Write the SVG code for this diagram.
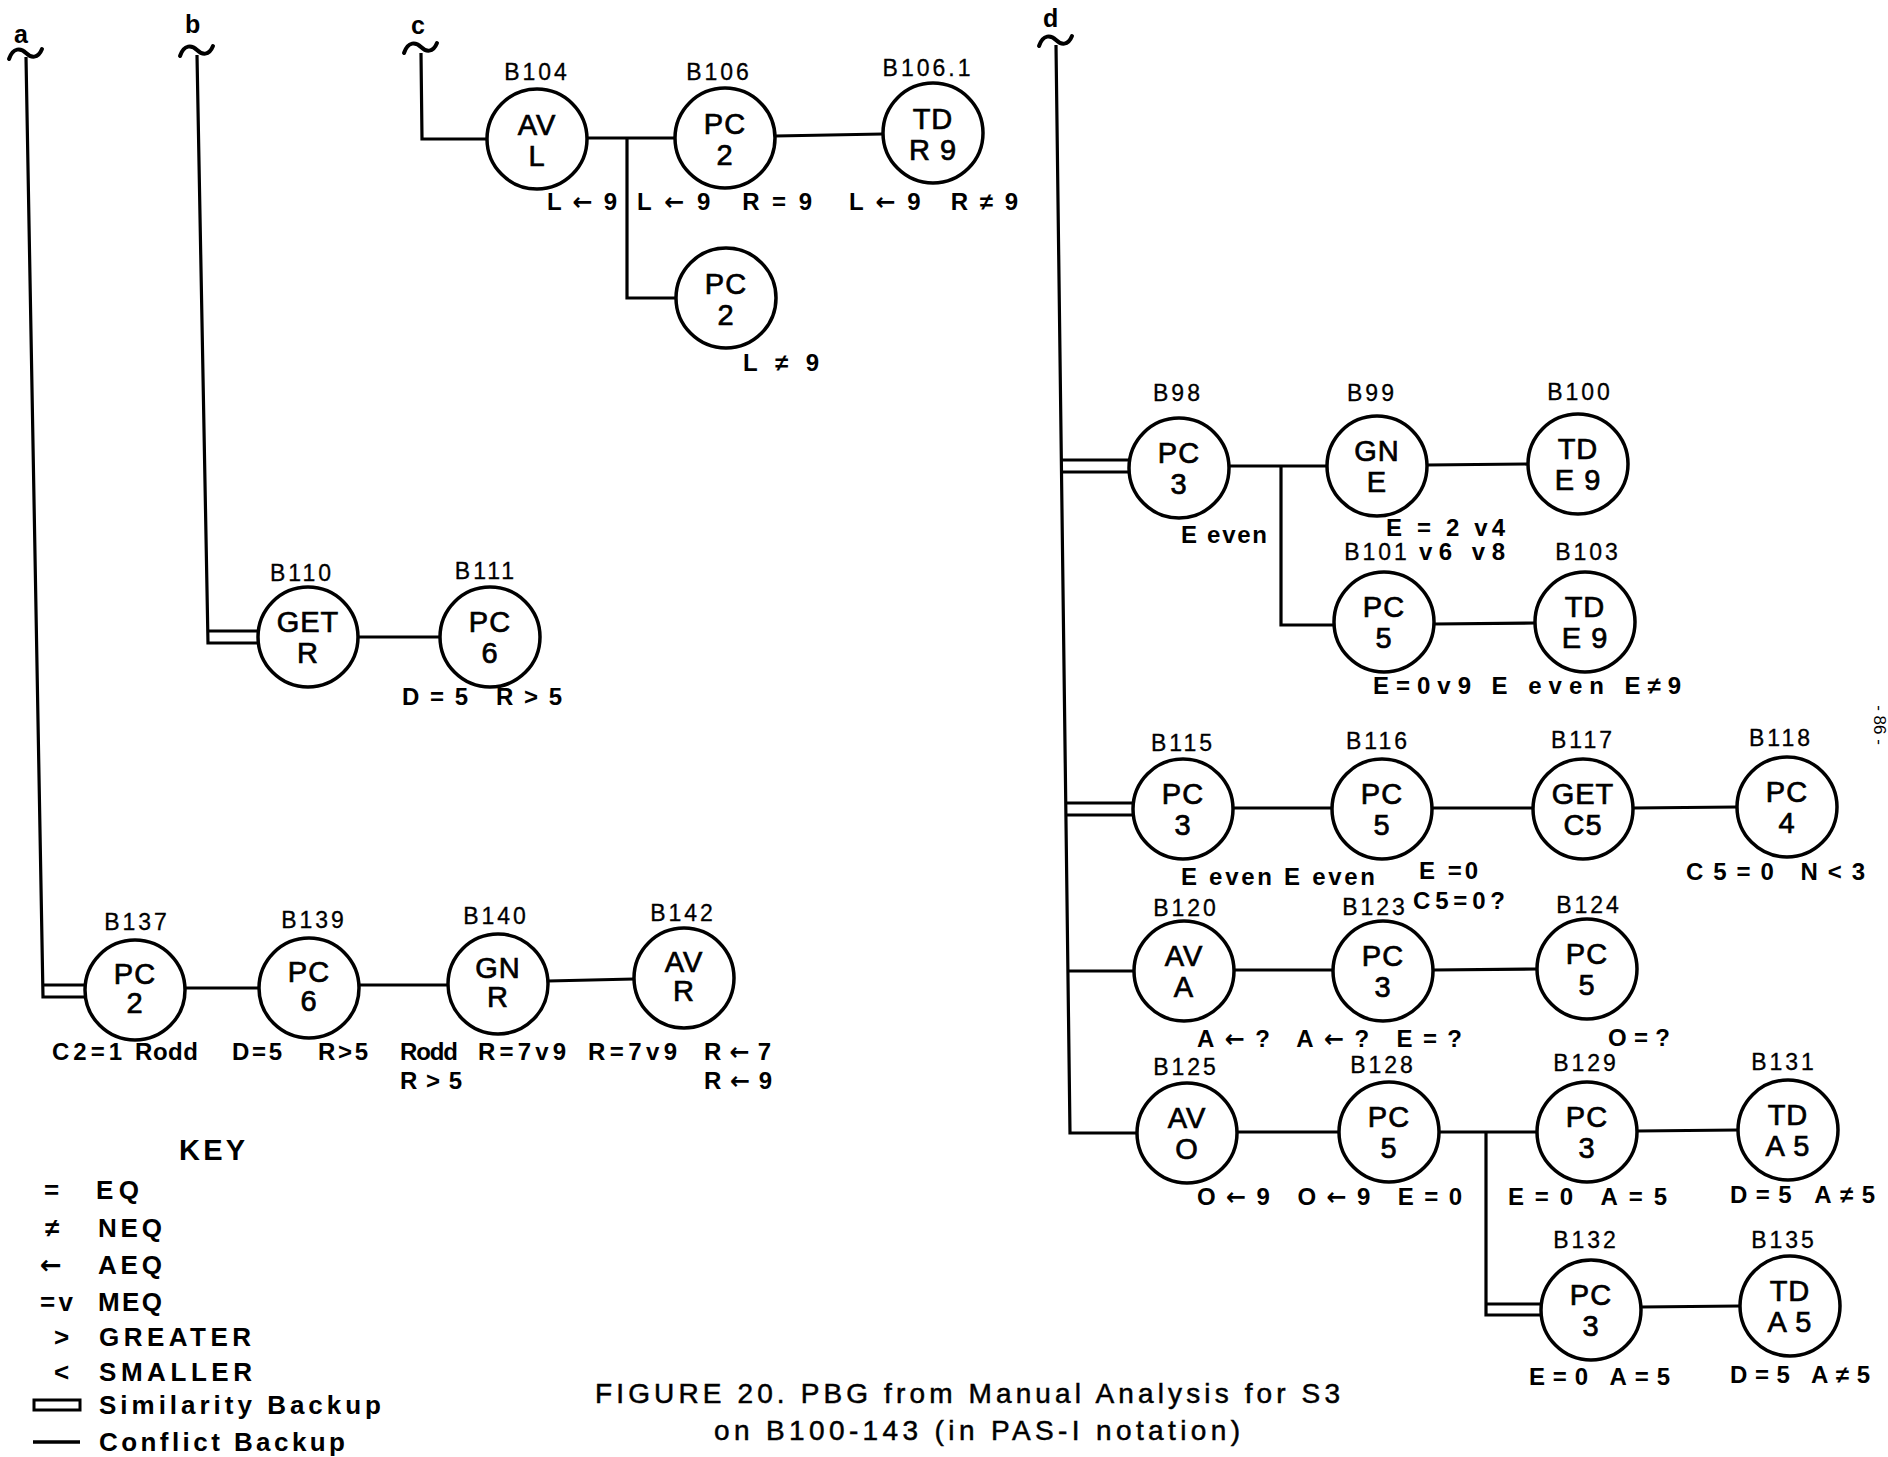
<svg xmlns="http://www.w3.org/2000/svg" width="1888" height="1457" viewBox="0 0 1888 1457">
<style>
text{font-family:"Liberation Sans","DejaVu Sans",Arial,sans-serif;fill:#000}
.node circle{fill:#fff;stroke:#000;stroke-width:3.5}
.nt{font-size:29px;text-anchor:middle;letter-spacing:1px;stroke:#000;stroke-width:0.7}
.id{font-size:23px;text-anchor:middle;letter-spacing:3px;stroke:#000;stroke-width:0.3}
.cd{font-size:24px;font-weight:bold}
.ar{font-family:"DejaVu Sans",sans-serif;font-weight:bold}
.lt{font-size:25px;font-weight:bold}
.edges path{fill:none;stroke:#000;stroke-width:3.2}
.tl{fill:none;stroke:#000;stroke-width:4;stroke-linecap:round}
.key{font-size:26px;font-weight:bold}
.cap{font-size:28px;stroke:#000;stroke-width:0.5}
</style>
<rect width="1888" height="1457" fill="#fff"/>

<!-- break marks and letters -->
<g id="breaks">
<text class="lt" x="14" y="43">a</text>
<text class="lt" x="185" y="33">b</text>
<text class="lt" x="411" y="34">c</text>
<text class="lt" x="1043" y="27">d</text>
<path class="tl" d="M9,59 C13,47 21,48 26,53 C31,58 38,59 42,49"/>
<path class="tl" d="M180,56 C184,44 192,45 197,50 C202,55 209,56 213,46"/>
<path class="tl" d="M404,53 C408,41 416,42 421,47 C426,52 433,53 437,43"/>
<path class="tl" d="M1039,46 C1043,34 1051,35 1056,40 C1061,45 1068,46 1072,36"/>
</g>

<g class="edges" id="connectors">
<!-- a -->
<path d="M26,57 L43,997 L87,997"/>
<path d="M43,985 L87,985"/>
<path d="M185,988 L260,988"/>
<path d="M359,985 L449,985"/>
<path d="M548,981 L634,979"/>
<!-- b -->
<path d="M197,55 L208,643 L259,643"/>
<path d="M208,631 L259,631"/>
<path d="M358,637 L440,637"/>
<!-- c -->
<path d="M421,53 L422,139 L487,139"/>
<path d="M587,138 L675,138"/>
<path d="M627,138 L627,298 L676,298"/>
<path d="M775,136 L883,134"/>
<!-- d -->
<path d="M1056,45 L1070,1133 L1137,1133"/>
<path d="M1062,460 L1130,460"/>
<path d="M1062,472 L1130,472"/>
<path d="M1229,466 L1327,466"/>
<path d="M1281,466 L1281,625 L1335,625"/>
<path d="M1427,465 L1528,464"/>
<path d="M1434,624 L1535,623"/>
<path d="M1066,803 L1134,803"/>
<path d="M1066,815 L1134,815"/>
<path d="M1233,808 L1332,808"/>
<path d="M1432,808 L1533,808"/>
<path d="M1633,808 L1737,807"/>
<path d="M1068,971 L1134,971"/>
<path d="M1234,970 L1333,970"/>
<path d="M1433,970 L1537,969"/>
<path d="M1237,1132 L1339,1132"/>
<path d="M1439,1132 L1537,1132"/>
<path d="M1486,1132 L1486,1315 L1542,1315"/>
<path d="M1486,1304 L1542,1304"/>
<path d="M1637,1131 L1738,1130"/>
<path d="M1641,1307 L1740,1306"/>
</g>

<!-- group c -->
<g id="B104" class="node"><circle cx="537" cy="139" r="50"/><text class="id" x="537" y="80">B104</text><text class="nt" x="537" y="135">AV</text><text class="nt" x="537" y="166">L</text></g>
<g id="B106" class="node"><circle cx="725" cy="138" r="50"/><text class="id" x="719" y="80">B106</text><text class="nt" x="725" y="134">PC</text><text class="nt" x="725" y="165">2</text></g>
<g id="B106_1" class="node"><circle cx="933" cy="133" r="50"/><text class="id" x="928" y="76">B106.1</text><text class="nt" x="933" y="129">TD</text><text class="nt" x="933" y="160">R 9</text></g>
<g id="B106b" class="node"><circle cx="726" cy="298" r="50"/><text class="nt" x="726" y="294">PC</text><text class="nt" x="726" y="325">2</text></g>
<g id="labels-c" class="cd">
<text x="547" y="210" textLength="70" lengthAdjust="spacing">L<tspan class="ar">←</tspan>9</text>
<text x="637" y="210" textLength="175" lengthAdjust="spacing">L<tspan class="ar">←</tspan>9   R=9</text>
<text x="849" y="210" textLength="169" lengthAdjust="spacing">L<tspan class="ar">←</tspan>9   R≠9</text>
<text x="743" y="371" textLength="76" lengthAdjust="spacing">L≠9</text>
</g>

<!-- group b -->
<g id="B110" class="node"><circle cx="308" cy="637" r="50"/><text class="id" x="302" y="581">B110</text><text class="nt" x="308" y="632">GET</text><text class="nt" x="308" y="663">R</text></g>
<g id="B111" class="node"><circle cx="490" cy="637" r="50"/><text class="id" x="486" y="579">B111</text><text class="nt" x="490" y="632">PC</text><text class="nt" x="490" y="663">6</text></g>
<text class="cd" x="402" y="705" textLength="160" lengthAdjust="spacing">D=5   R&gt;5</text>

<!-- group a -->
<g id="B137" class="node"><circle cx="135" cy="990" r="50"/><text class="id" x="137" y="930">B137</text><text class="nt" x="135" y="984">PC</text><text class="nt" x="135" y="1013">2</text></g>
<g id="B139" class="node"><circle cx="309" cy="988" r="50"/><text class="id" x="314" y="928">B139</text><text class="nt" x="309" y="982">PC</text><text class="nt" x="309" y="1011">6</text></g>
<g id="B140" class="node"><circle cx="498" cy="984" r="50"/><text class="id" x="496" y="924">B140</text><text class="nt" x="498" y="978">GN</text><text class="nt" x="498" y="1007">R</text></g>
<g id="B142" class="node"><circle cx="684" cy="978" r="50"/><text class="id" x="683" y="921">B142</text><text class="nt" x="684" y="972">AV</text><text class="nt" x="684" y="1001">R</text></g>
<g id="labels-a" class="cd">
<text x="52" y="1060" textLength="70" lengthAdjust="spacing">C2=1</text>
<text x="135" y="1060" textLength="63" lengthAdjust="spacing">Rodd</text>
<text x="232" y="1060" textLength="50" lengthAdjust="spacing">D=5</text>
<text x="318" y="1060" textLength="50" lengthAdjust="spacing">R&gt;5</text>
<text x="400" y="1060" textLength="58" lengthAdjust="spacing">Rodd</text>
<text x="478" y="1060" textLength="88" lengthAdjust="spacing">R=7v9</text>
<text x="588" y="1060" textLength="89" lengthAdjust="spacing">R=7v9</text>
<text x="704" y="1060" textLength="67" lengthAdjust="spacing">R<tspan class="ar">←</tspan>7</text>
<text x="400" y="1089" textLength="62" lengthAdjust="spacing">R&gt;5</text>
<text x="704" y="1089" textLength="68" lengthAdjust="spacing">R<tspan class="ar">←</tspan>9</text>
</g>

<!-- group d -->
<g id="B98" class="node"><circle cx="1179" cy="468" r="50"/><text class="id" x="1178" y="401">B98</text><text class="nt" x="1179" y="463">PC</text><text class="nt" x="1179" y="494">3</text></g>
<g id="B99" class="node"><circle cx="1377" cy="466" r="50"/><text class="id" x="1372" y="401">B99</text><text class="nt" x="1377" y="461">GN</text><text class="nt" x="1377" y="492">E</text></g>
<g id="B100" class="node"><circle cx="1578" cy="464" r="50"/><text class="id" x="1580" y="400">B100</text><text class="nt" x="1578" y="459">TD</text><text class="nt" x="1578" y="490">E 9</text></g>
<g id="B101" class="node"><circle cx="1384" cy="622" r="50"/><text class="id" x="1377" y="560">B101</text><text class="nt" x="1384" y="617">PC</text><text class="nt" x="1384" y="648">5</text></g>
<g id="B103" class="node"><circle cx="1585" cy="622" r="50"/><text class="id" x="1588" y="560">B103</text><text class="nt" x="1585" y="617">TD</text><text class="nt" x="1585" y="648">E 9</text></g>
<g id="B115" class="node"><circle cx="1183" cy="809" r="50"/><text class="id" x="1183" y="751">B115</text><text class="nt" x="1183" y="804">PC</text><text class="nt" x="1183" y="835">3</text></g>
<g id="B116" class="node"><circle cx="1382" cy="809" r="50"/><text class="id" x="1378" y="749">B116</text><text class="nt" x="1382" y="804">PC</text><text class="nt" x="1382" y="835">5</text></g>
<g id="B117" class="node"><circle cx="1583" cy="809" r="50"/><text class="id" x="1583" y="748">B117</text><text class="nt" x="1583" y="804">GET</text><text class="nt" x="1583" y="835">C5</text></g>
<g id="B118" class="node"><circle cx="1787" cy="807" r="50"/><text class="id" x="1781" y="746">B118</text><text class="nt" x="1787" y="802">PC</text><text class="nt" x="1787" y="833">4</text></g>
<g id="B120" class="node"><circle cx="1184" cy="971" r="50"/><text class="id" x="1186" y="916">B120</text><text class="nt" x="1184" y="966">AV</text><text class="nt" x="1184" y="997">A</text></g>
<g id="B123" class="node"><circle cx="1383" cy="971" r="50"/><text class="id" x="1375" y="915">B123</text><text class="nt" x="1383" y="966">PC</text><text class="nt" x="1383" y="997">3</text></g>
<g id="B124" class="node"><circle cx="1587" cy="969" r="50"/><text class="id" x="1589" y="913">B124</text><text class="nt" x="1587" y="964">PC</text><text class="nt" x="1587" y="995">5</text></g>
<g id="B125" class="node"><circle cx="1187" cy="1133" r="50"/><text class="id" x="1186" y="1075">B125</text><text class="nt" x="1187" y="1128">AV</text><text class="nt" x="1187" y="1159">O</text></g>
<g id="B128" class="node"><circle cx="1389" cy="1132" r="50"/><text class="id" x="1383" y="1073">B128</text><text class="nt" x="1389" y="1127">PC</text><text class="nt" x="1389" y="1158">5</text></g>
<g id="B129" class="node"><circle cx="1587" cy="1132" r="50"/><text class="id" x="1586" y="1071">B129</text><text class="nt" x="1587" y="1127">PC</text><text class="nt" x="1587" y="1158">3</text></g>
<g id="B131" class="node"><circle cx="1788" cy="1130" r="50"/><text class="id" x="1784" y="1070">B131</text><text class="nt" x="1788" y="1125">TD</text><text class="nt" x="1788" y="1156">A 5</text></g>
<g id="B132" class="node"><circle cx="1591" cy="1310" r="50"/><text class="id" x="1586" y="1248">B132</text><text class="nt" x="1591" y="1305">PC</text><text class="nt" x="1591" y="1336">3</text></g>
<g id="B135" class="node"><circle cx="1790" cy="1306" r="50"/><text class="id" x="1784" y="1248">B135</text><text class="nt" x="1790" y="1301">TD</text><text class="nt" x="1790" y="1332">A 5</text></g>
<g id="labels-d" class="cd">
<text x="1181" y="543" textLength="86" lengthAdjust="spacing">E even</text>
<text x="1386" y="536" textLength="119" lengthAdjust="spacing">E = 2 v4</text>
<text x="1419" y="560" textLength="86" lengthAdjust="spacing">v6 v8</text>
<text x="1373" y="694" textLength="308" lengthAdjust="spacing">E=0v9  E even  E≠9</text>
<text x="1181" y="885" textLength="194" lengthAdjust="spacing">E even  E even</text>
<text x="1419" y="879" textLength="59" lengthAdjust="spacing">E =0</text>
<text x="1413" y="909" textLength="92" lengthAdjust="spacing">C5=0?</text>
<text x="1686" y="880" textLength="179" lengthAdjust="spacing">C5=0   N&lt;3</text>
<text x="1197" y="1047" textLength="265" lengthAdjust="spacing">A<tspan class="ar">←</tspan>?   A<tspan class="ar">←</tspan>?  E=?</text>
<text x="1608" y="1046" textLength="62" lengthAdjust="spacing">O=?</text>
<text x="1197" y="1205" textLength="265" lengthAdjust="spacing">O<tspan class="ar">←</tspan>9   O<tspan class="ar">←</tspan>9   E=0</text>
<text x="1508" y="1205" textLength="159" lengthAdjust="spacing">E=0   A=5</text>
<text x="1730" y="1203" textLength="145" lengthAdjust="spacing">D=5   A≠5</text>
<text x="1529" y="1385" textLength="141" lengthAdjust="spacing">E=0   A=5</text>
<text x="1730" y="1383" textLength="140" lengthAdjust="spacing">D=5   A≠5</text>
</g>

<!-- key -->
<g id="key">
<text class="key" x="179" y="1160" textLength="66" lengthAdjust="spacing" style="font-size:29px">KEY</text>
<text class="key" x="44" y="1199">=</text><text class="key" x="96" y="1199" textLength="43" lengthAdjust="spacing">EQ</text>
<text class="key" x="45" y="1237">≠</text><text class="key" x="98" y="1237" textLength="64" lengthAdjust="spacing">NEQ</text>
<text class="key" x="40" y="1274"><tspan class="ar">←</tspan></text><text class="key" x="98" y="1274" textLength="64" lengthAdjust="spacing">AEQ</text>
<text class="key" x="40" y="1311" textLength="33" lengthAdjust="spacing">=v</text><text class="key" x="98" y="1311" textLength="64" lengthAdjust="spacing">MEQ</text>
<text class="key" x="54" y="1346">&gt;</text><text class="key" x="99" y="1346" textLength="152" lengthAdjust="spacing">GREATER</text>
<text class="key" x="54" y="1381">&lt;</text><text class="key" x="99" y="1381" textLength="153" lengthAdjust="spacing">SMALLER</text>
<rect x="34" y="1400" width="46" height="10" fill="none" stroke="#000" stroke-width="3"/>
<text class="key" x="99" y="1414" textLength="282" lengthAdjust="spacing">Similarity Backup</text>
<line x1="33" y1="1442" x2="80" y2="1442" stroke="#000" stroke-width="3.5"/>
<text class="key" x="99" y="1451" textLength="246" lengthAdjust="spacing">Conflict Backup</text>
</g>

<!-- caption -->
<g id="caption">
<text class="cap" x="595" y="1403" textLength="745" lengthAdjust="spacing">FIGURE  20. PBG from Manual Analysis for  S3</text>
<text class="cap" x="714" y="1440" textLength="526" lengthAdjust="spacing">on B100-143 (in PAS-I  notation)</text>
</g>

<text x="1874" y="725" font-size="17" text-anchor="middle" transform="rotate(90 1874 725)">- 86 -</text>
</svg>
